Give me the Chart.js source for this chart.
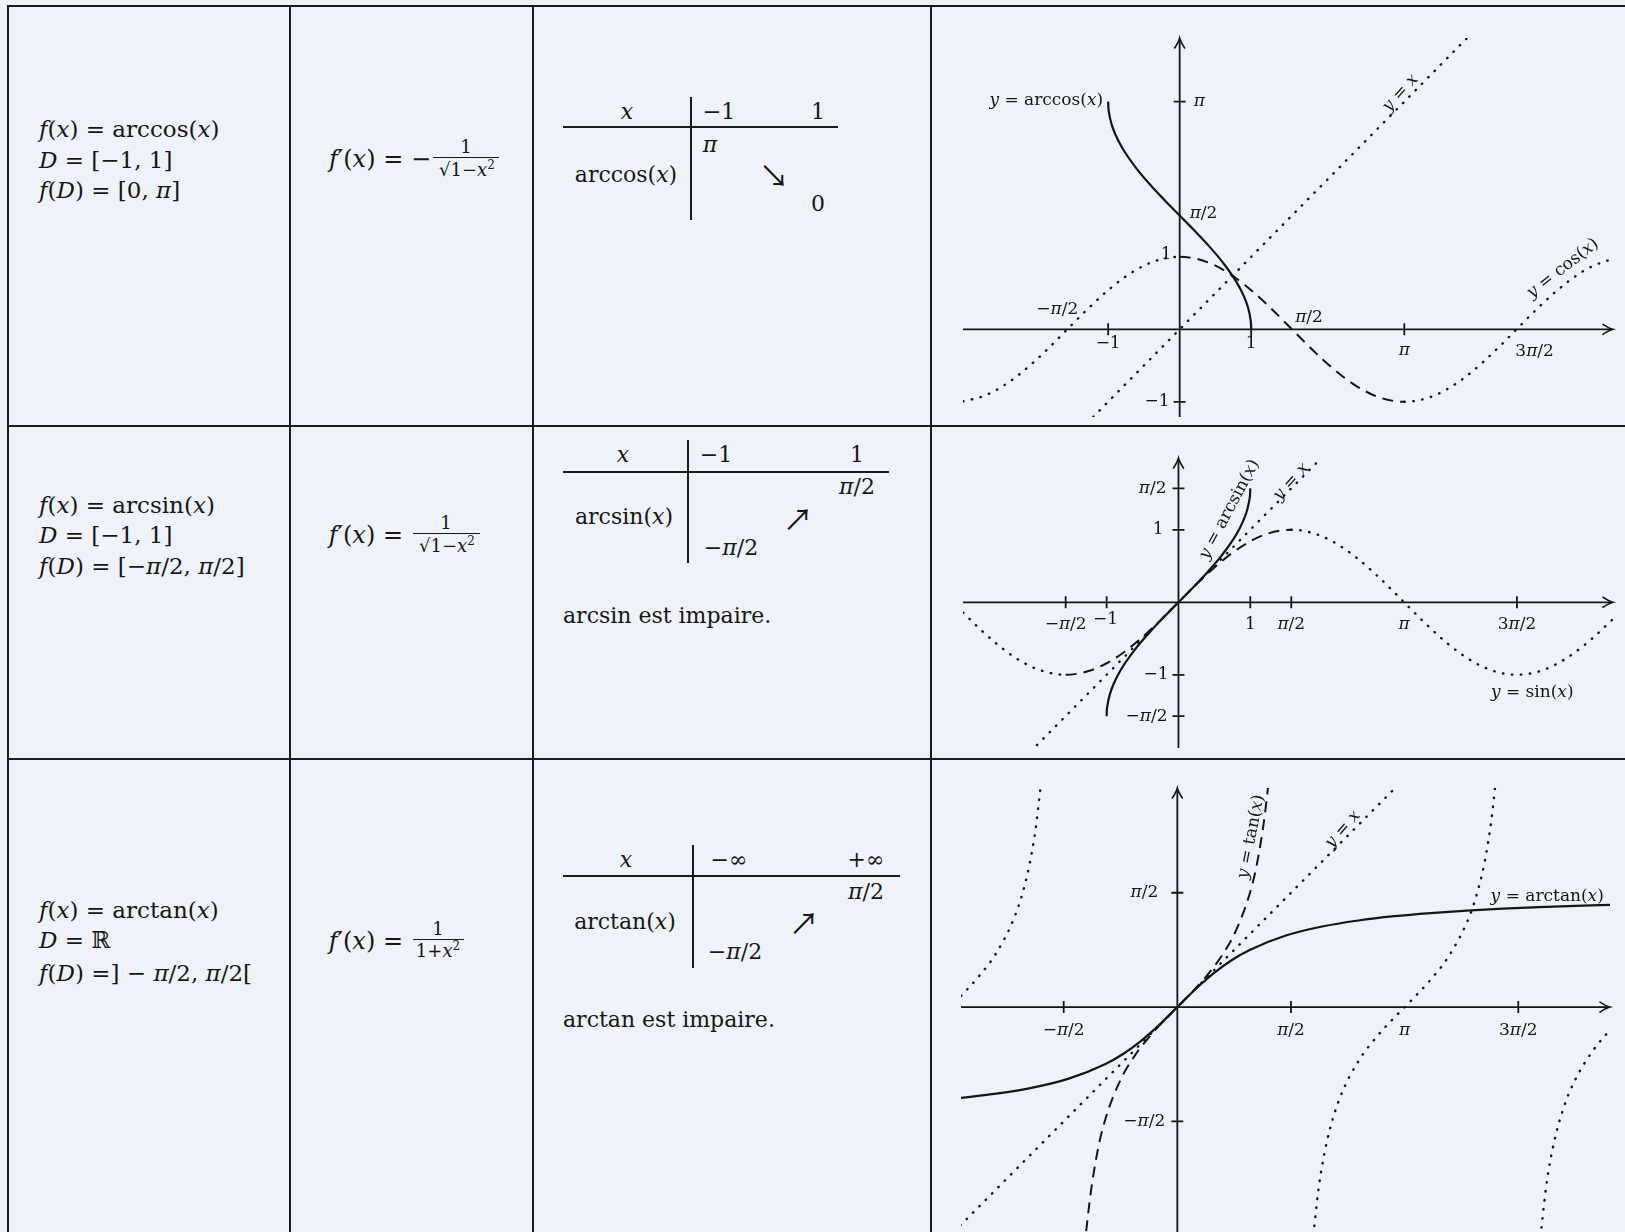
<!DOCTYPE html>
<html lang="fr">
<head>
<meta charset="utf-8">
<title>Fonctions trigonométriques réciproques</title>
<script src="https://cdn.jsdelivr.net/npm/chart.js@4.4.1/dist/chart.umd.min.js"></script>
<style>
  html, body { margin: 0; padding: 0; background: #eff3f9; }
  #page { position: relative; width: 1625px; height: 1232px; overflow: hidden;
          font-family: "DejaVu Serif", "Liberation Serif", serif; color: #161616; }
  .hl, .vl { position: absolute; background: #1b1b1b; }
  .t { position: absolute; white-space: nowrap; font-size: 22px; line-height: 1; }
  .big { font-size: 23px; }
  .fp { font-size: 24px; }
  .l { transform: translateY(-50%); }
  .r { transform: translate(-100%, -50%); }
  .c { transform: translate(-50%, -50%); }
  .s { font-size: 18px; }
  .ar { font-family: "Noto Sans CJK JP", "DejaVu Sans", sans-serif; font-size: 30px; }
  .ov { border-top: 1px solid #161616; padding-top: 1px; }
  sup { font-size: 12px; vertical-align: 7px; line-height: 0; }
  canvas { position: absolute; }
</style>
</head>
<body>
<div id="page">
  <!-- grille -->
  <div class="hl" style="left:7px;top:5px;width:1618px;height:2px"></div>
  <div class="hl" style="left:7px;top:425px;width:1618px;height:2px"></div>
  <div class="hl" style="left:7px;top:758px;width:1618px;height:2px"></div>
  <div class="vl" style="left:7px;top:5px;width:2px;height:1227px"></div>
  <div class="vl" style="left:289px;top:5px;width:2px;height:1227px"></div>
  <div class="vl" style="left:532px;top:5px;width:2px;height:1227px"></div>
  <div class="vl" style="left:930px;top:5px;width:2px;height:1227px"></div>

  <!-- ligne arccos -->
  <div class="t l big" style="left:39px;top:129px"><i>f</i>(<i>x</i>) = arccos(<i>x</i>)</div>
  <div class="t l big" style="left:39px;top:160px"><i>D</i> = [−1, 1]</div>
  <div class="t l big" style="left:39px;top:190px"><i>f</i>(<i>D</i>) = [0, <i>π</i>]</div>
  <div class="t r fp" style="left:431px;top:159px"><i>f</i>′(<i>x</i>) = −</div>
  <div class="t c s" style="left:466px;top:147px">1</div>
  <div class="hl" style="left:433px;top:157px;width:66px;height:1px"></div>
  <div class="t c s" style="left:467px;top:170px">√<span class="ov">1−<i>x</i><sup>2</sup></span></div>

  <div class="t c" style="left:627px;top:112px"><i>x</i></div>
  <div class="t c" style="left:719px;top:112px">−1</div>
  <div class="t c" style="left:818px;top:112px">1</div>
  <div class="hl" style="left:563px;top:126px;width:275px;height:1.5px"></div>
  <div class="vl" style="left:690px;top:97px;width:1.5px;height:123px"></div>
  <div class="t c" style="left:710px;top:145px"><i>π</i></div>
  <div class="t c" style="left:626px;top:175px">arccos(<i>x</i>)</div>
  <div class="t c ar" style="left:774px;top:174px">↘</div>
  <div class="t c" style="left:818px;top:204px">0</div>

  <!-- ligne arcsin -->
  <div class="t l big" style="left:39px;top:505px"><i>f</i>(<i>x</i>) = arcsin(<i>x</i>)</div>
  <div class="t l big" style="left:39px;top:535px"><i>D</i> = [−1, 1]</div>
  <div class="t l big" style="left:39px;top:566px"><i>f</i>(<i>D</i>) = [−<i>π</i>/2, <i>π</i>/2]</div>
  <div class="t r fp" style="left:403px;top:535px"><i>f</i>′(<i>x</i>) =</div>
  <div class="t c s" style="left:446px;top:523px">1</div>
  <div class="hl" style="left:413px;top:533px;width:67px;height:1px"></div>
  <div class="t c s" style="left:447px;top:546px">√<span class="ov">1−<i>x</i><sup>2</sup></span></div>

  <div class="t c" style="left:623px;top:455px"><i>x</i></div>
  <div class="t c" style="left:716px;top:455px">−1</div>
  <div class="t c" style="left:857px;top:455px">1</div>
  <div class="hl" style="left:563px;top:471px;width:326px;height:1.5px"></div>
  <div class="vl" style="left:687px;top:440px;width:1.5px;height:123px"></div>
  <div class="t c" style="left:857px;top:487px"><i>π</i>/2</div>
  <div class="t c" style="left:624px;top:517px">arcsin(<i>x</i>)</div>
  <div class="t c ar" style="left:798px;top:517px">↗</div>
  <div class="t c" style="left:731px;top:548px">−<i>π</i>/2</div>
  <div class="t l" style="left:563px;top:616px">arcsin est impaire.</div>

  <!-- ligne arctan -->
  <div class="t l big" style="left:39px;top:910px"><i>f</i>(<i>x</i>) = arctan(<i>x</i>)</div>
  <div class="t l big" style="left:39px;top:940px"><i>D</i> = ℝ</div>
  <div class="t l big" style="left:39px;top:973px"><i>f</i>(<i>D</i>) =] − <i>π</i>/2, <i>π</i>/2[</div>
  <div class="t r fp" style="left:403px;top:941px"><i>f</i>′(<i>x</i>) =</div>
  <div class="t c s" style="left:438px;top:929px">1</div>
  <div class="hl" style="left:413px;top:939px;width:51px;height:1px"></div>
  <div class="t c s" style="left:438px;top:951px">1+<i>x</i><sup>2</sup></div>

  <div class="t c" style="left:626px;top:860px"><i>x</i></div>
  <div class="t c" style="left:729px;top:860px">−∞</div>
  <div class="t c" style="left:866px;top:860px">+∞</div>
  <div class="hl" style="left:563px;top:875px;width:337px;height:1.5px"></div>
  <div class="vl" style="left:692px;top:845px;width:1.5px;height:123px"></div>
  <div class="t c" style="left:866px;top:892px"><i>π</i>/2</div>
  <div class="t c" style="left:625px;top:922px">arctan(<i>x</i>)</div>
  <div class="t c ar" style="left:804px;top:921px">↗</div>
  <div class="t c" style="left:735px;top:952px">−<i>π</i>/2</div>
  <div class="t l" style="left:563px;top:1020px">arctan est impaire.</div>

  <canvas id="c1" width="693" height="419" style="left:932px;top:6px"></canvas>
  <canvas id="c2" width="693" height="331" style="left:932px;top:427px"></canvas>
  <canvas id="c3" width="693" height="472" style="left:932px;top:760px"></canvas>
</div>

<script>
const PI = Math.PI;

// ---- graphe 1 : arccos / cos ----
const p1XRange = [-3.03, 6.06];
const p1YRange = [-1.21, 4.02];
const acosX = [-1, -0.998, -0.99, -0.95, -0.9, -0.8, -0.6, -0.4, -0.2, 0, 0.2, 0.4, 0.6, 0.8, 0.9, 0.95, 0.99, 0.998, 1];
const acosY = [3.142, 3.078, 3.000, 2.824, 2.691, 2.498, 2.214, 1.982, 1.772, 1.571, 1.369, 1.159, 0.927, 0.644, 0.451, 0.318, 0.142, 0.063, 0];
const cosX = [-3.03, -2.75, -2.5, -2.25, -2, -1.75, -1.5, -1.25, -1, -0.75, -0.5, -0.25, 0, 0.25, 0.5, 0.75, 1, 1.25, 1.5, 1.75, 2, 2.25, 2.5, 2.75, 3, 3.1416, 3.25, 3.5, 3.75, 4, 4.25, 4.5, 4.75, 5, 5.25, 5.5, 5.75, 6.06];
const cosY = [-0.994, -0.924, -0.801, -0.628, -0.416, -0.178, 0.071, 0.315, 0.540, 0.732, 0.878, 0.969, 1, 0.969, 0.878, 0.732, 0.540, 0.315, 0.071, -0.178, -0.416, -0.628, -0.801, -0.924, -0.990, -1, -0.994, -0.937, -0.821, -0.654, -0.446, -0.211, 0.038, 0.284, 0.512, 0.709, 0.861, 0.975];
const id1X = [-1.21, 4.06];
const id1Y = [-1.21, 4.06];
const p1XTicks = [-1, 1, PI];
const p1YTicks = [PI, -1];
const p1XLabelVals = [-PI / 2, -1, 1, PI / 2, PI, 3 * PI / 2];
const p1XLabels = ['−π/2', '−1', '1', 'π/2', 'π', '3π/2'];
const p1YLabelVals = [PI, PI / 2, 1, -1];
const p1YLabels = ['π', 'π/2', '1', '−1'];
const p1Curves = ['y = arccos(x)', 'y = x', 'y = cos(x)'];

// ---- graphe 2 : arcsin / sin ----
const p2XRange = [-3.0, 6.05];
const p2YRange = [-2.01, 1.99];
const asinX = [-1, -0.998, -0.99, -0.95, -0.9, -0.8, -0.6, -0.4, -0.2, 0, 0.2, 0.4, 0.6, 0.8, 0.9, 0.95, 0.99, 0.998, 1];
const asinY = [-1.571, -1.508, -1.429, -1.253, -1.120, -0.927, -0.644, -0.412, -0.201, 0, 0.201, 0.412, 0.644, 0.927, 1.120, 1.253, 1.429, 1.508, 1.571];
const sinX = [-3, -2.75, -2.5, -2.25, -2, -1.75, -1.5708, -1.25, -1, -0.75, -0.5, -0.25, 0, 0.25, 0.5, 0.75, 1, 1.25, 1.5708, 1.75, 2, 2.25, 2.5, 2.75, 3, 3.25, 3.5, 3.75, 4, 4.25, 4.5, 4.7124, 5, 5.25, 5.5, 5.75, 6.05];
const sinY = [-0.141, -0.382, -0.598, -0.778, -0.909, -0.984, -1, -0.949, -0.841, -0.682, -0.479, -0.247, 0, 0.247, 0.479, 0.682, 0.841, 0.949, 1, 0.984, 0.909, 0.778, 0.598, 0.382, 0.141, -0.108, -0.351, -0.572, -0.757, -0.895, -0.978, -1, -0.959, -0.859, -0.706, -0.508, -0.231];
const id2X = [-1.97, 1.95];
const id2Y = [-1.97, 1.95];
const p2XTicks = [-PI / 2, -1, 1, PI / 2, 3 * PI / 2];
const p2YTicks = [PI / 2, 1, -1, -PI / 2];
const p2XLabelVals = [-PI / 2, -1, 1, PI / 2, PI, 3 * PI / 2];
const p2XLabels = ['−π/2', '−1', '1', 'π/2', 'π', '3π/2'];
const p2YLabelVals = [PI / 2, 1, -1, -PI / 2];
const p2YLabels = ['π/2', '1', '−1', '−π/2'];
const p2Curves = ['y = arcsin(x)', 'y = x', 'y = sin(x)'];

// ---- graphe 3 : arctan / tan ----
const p3XRange = [-2.99, 5.98];
const p3YRange = [-3.09, 3.01];
const atanX = [-3, -2.5, -2, -1.5, -1, -0.75, -0.5, -0.25, 0, 0.25, 0.5, 0.75, 1, 1.5, 2, 2.5, 3, 3.5, 4, 4.5, 5, 5.5, 6];
const atanY = [-1.249, -1.190, -1.107, -0.983, -0.785, -0.644, -0.464, -0.245, 0, 0.245, 0.464, 0.644, 0.785, 0.983, 1.107, 1.190, 1.249, 1.292, 1.326, 1.352, 1.373, 1.391, 1.406];
const tanMidX = [-1.26, -1.2, -1.1, -1, -0.8, -0.6, -0.4, -0.2, 0, 0.2, 0.4, 0.6, 0.8, 1, 1.1, 1.2, 1.26];
const tanMidY = [-3.078, -2.572, -1.965, -1.557, -1.030, -0.684, -0.423, -0.203, 0, 0.203, 0.423, 0.684, 1.030, 1.557, 1.965, 2.572, 3.078];
const tanLeftX = [-2.99, -2.75, -2.5, -2.25, -2.1, -2, -1.95, -1.89];
const tanLeftY = [0.153, 0.413, 0.747, 1.239, 1.710, 2.185, 2.510, 3.027];
const tanCenterX = [1.88, 1.95, 2, 2.1, 2.25, 2.5, 2.75, 3, 3.1416, 3.25, 3.5, 3.75, 4, 4.1, 4.25, 4.35, 4.4];
const tanCenterY = [-3.130, -2.510, -2.185, -1.710, -1.239, -0.747, -0.413, -0.143, 0, 0.109, 0.375, 0.697, 1.158, 1.423, 2.006, 2.643, 3.099];
const tanRightX = [5.02, 5.1, 5.2, 5.35, 5.5, 5.75, 5.98];
const tanRightY = [-3.151, -2.449, -1.885, -1.350, -0.996, -0.590, -0.313];
const id3X = [-3, 3];
const id3Y = [-3, 3];
const p3XTicks = [-PI / 2, PI / 2, 3 * PI / 2];
const p3YTicks = [PI / 2, -PI / 2];
const p3XLabelVals = [-PI / 2, PI / 2, PI, 3 * PI / 2];
const p3XLabels = ['−π/2', 'π/2', 'π', '3π/2'];
const p3YLabelVals = [PI / 2, -PI / 2];
const p3YLabels = ['π/2', '−π/2'];
const p3Curves = ['y = tan(x)', 'y = x', 'y = arctan(x)'];

const INK = '#151515';
const DOT = [0.5, 8.5];
const DASH = [11, 7];
const FONT = '"DejaVu Serif", "Liberation Serif", serif';

const pts = (xs, ys) => xs.map((x, i) => ({ x, y: ys[i] }));

function solid(data) {
  return { data, borderColor: INK, borderWidth: 2.2, showLine: true, pointRadius: 0,
           cubicInterpolationMode: 'monotone', fill: false };
}
function dotted(data) {
  return { ...solid(data), borderWidth: 2.4, borderDash: DOT, borderCapStyle: 'round' };
}
function dashed(data) {
  return { ...solid(data), borderWidth: 2, borderDash: DASH };
}
// pointillés hors de [lo, hi], tirets dedans
function mixed(data, lo, hi) {
  const inside = c => c.p0.parsed.x >= lo && c.p1.parsed.x <= hi;
  return { ...solid(data), segment: {
    borderDash: c => inside(c) ? DASH : DOT,
    borderCapStyle: c => inside(c) ? 'butt' : 'round',
    borderWidth: c => inside(c) ? 2 : 2.4,
  } };
}

// texte « mathématique » : x, y, π en italique
function mathText(ctx, str, x, y, align, rotDeg) {
  const runs = [];
  for (const ch of str) {
    const it = /[xyπ]/.test(ch);
    const last = runs[runs.length - 1];
    if (last && last.it === it) last.s += ch; else runs.push({ s: ch, it });
  }
  const fontOf = it => (it ? 'italic ' : '') + '17px ' + FONT;
  let w = 0;
  runs.forEach(r => { ctx.font = fontOf(r.it); r.w = ctx.measureText(r.s).width; w += r.w; });
  ctx.save();
  ctx.translate(x, y);
  if (rotDeg) ctx.rotate(rotDeg * PI / 180);
  ctx.fillStyle = INK;
  ctx.textBaseline = 'middle';
  ctx.textAlign = 'left';
  let cx = align === 'left' ? 0 : align === 'right' ? -w : -w / 2;
  runs.forEach(r => { ctx.font = fontOf(r.it); ctx.fillText(r.s, cx, 0); cx += r.w; });
  ctx.restore();
}

function arrowHead(ctx, x, y, ang) {
  ctx.save();
  ctx.translate(x, y);
  ctx.rotate(ang);
  ctx.lineWidth = 1.6;
  ctx.lineCap = 'round';
  ctx.beginPath();
  ctx.moveTo(-10, -5);
  ctx.quadraticCurveTo(-4, -1, 0, 0);
  ctx.quadraticCurveTo(-4, 1, -10, 5);
  ctx.stroke();
  ctx.restore();
}

// axes centrés, graduations et étiquettes
function frame(spec) {
  return {
    id: 'frame',
    beforeDatasetsDraw(chart) {
      const { ctx, chartArea: a, scales: { x, y } } = chart;
      const x0 = x.getPixelForValue(0), y0 = y.getPixelForValue(0);
      ctx.save();
      ctx.strokeStyle = INK;
      ctx.lineWidth = 1.8;
      ctx.beginPath();
      ctx.moveTo(a.left, y0); ctx.lineTo(a.right - 1, y0);
      ctx.moveTo(x0, a.bottom); ctx.lineTo(x0, a.top + 1);
      spec.xTicks.forEach(v => { const p = x.getPixelForValue(v); ctx.moveTo(p, y0 - 6); ctx.lineTo(p, y0 + 6); });
      spec.yTicks.forEach(v => { const p = y.getPixelForValue(v); ctx.moveTo(x0 - 6, p); ctx.lineTo(x0 + 6, p); });
      ctx.stroke();
      arrowHead(ctx, a.right, y0, 0);
      arrowHead(ctx, x0, a.top, -PI / 2);
      ctx.restore();
    },
    afterDatasetsDraw(chart) {
      const { ctx, scales: { x, y } } = chart;
      const x0 = x.getPixelForValue(0), y0 = y.getPixelForValue(0);
      spec.xLabelVals.forEach((v, i) => {
        const [dx, dy] = spec.xOff[i];
        mathText(ctx, spec.xLabels[i], x.getPixelForValue(v) + dx, y0 + dy, 'center', 0);
      });
      spec.yLabelVals.forEach((v, i) => {
        const [dx, dy, al] = spec.yOff[i];
        mathText(ctx, spec.yLabels[i], x0 + dx, y.getPixelForValue(v) + dy, al, 0);
      });
      spec.curves.forEach((t, i) => {
        const [vx, vy, al, rot] = spec.curveAt[i];
        mathText(ctx, t, x.getPixelForValue(vx), y.getPixelForValue(vy), al, rot);
      });
    },
  };
}

function plot(id, xr, yr, pad, datasets, spec) {
  return new Chart(document.getElementById(id), {
    type: 'scatter',
    data: { datasets },
    options: {
      responsive: false,
      animation: false,
      events: [],
      layout: { padding: pad },
      plugins: { legend: { display: false }, tooltip: { enabled: false } },
      scales: {
        x: { type: 'linear', min: xr[0], max: xr[1], display: false },
        y: { type: 'linear', min: yr[0], max: yr[1], display: false },
      },
    },
    plugins: [frame(spec)],
  });
}

plot('c1', p1XRange, p1YRange, { left: 31, right: 12, top: 32, bottom: 8 }, [
  solid(pts(acosX, acosY)),
  mixed(pts(cosX, cosY), 0, 3.15),
  dotted(pts(id1X, id1Y)),
], {
  xTicks: p1XTicks, yTicks: p1YTicks,
  xLabelVals: p1XLabelVals, xLabels: p1XLabels,
  xOff: [[-10, -20], [0, 14], [0, 14], [17, -12], [0, 21], [18, 22]],
  yLabelVals: p1YLabelVals, yLabels: p1YLabels,
  yOff: [[14, 0, 'left'], [10, -2, 'left'], [-8, -2, 'right'], [-10, 0, 'right']],
  curves: p1Curves,
  curveAt: [[-1.07, 3.16, 'right', 0], [3.09, 3.26, 'center', -48], [5.36, 0.84, 'center', -38]],
});

plot('c2', p2XRange, p2YRange, { left: 31, right: 12, top: 31, bottom: 10 }, [
  solid(pts(asinX, asinY)),
  mixed(pts(sinX, sinY), -1.58, 1.58),
  dotted(pts(id2X, id2Y)),
], {
  xTicks: p2XTicks, yTicks: p2YTicks,
  xLabelVals: p2XLabelVals, xLabels: p2XLabels,
  xOff: [[0, 22], [-1, 17], [0, 22], [0, 22], [0, 22], [0, 22]],
  yLabelVals: p2YLabelVals, yLabels: p2YLabels,
  yOff: [[-12, 0, 'right'], [-15, 0, 'right'], [-10, 0, 'right'], [-11, 0, 'right']],
  curves: p2Curves,
  curveAt: [[0.71, 1.28, 'center', -62], [1.57, 1.66, 'center', -48], [4.35, -1.25, 'left', 0]],
});

plot('c3', p3XRange, p3YRange, { left: 29, right: 15, top: 28, bottom: 0 }, [
  solid(pts(atanX, atanY)),
  dashed(pts(tanMidX, tanMidY)),
  dotted(pts(tanLeftX, tanLeftY)),
  dotted(pts(tanCenterX, tanCenterY)),
  dotted(pts(tanRightX, tanRightY)),
  dotted(pts(id3X, id3Y)),
], {
  xTicks: p3XTicks, yTicks: p3YTicks,
  xLabelVals: p3XLabelVals, xLabels: p3XLabels,
  xOff: [[0, 23], [0, 23], [0, 23], [0, 23]],
  yLabelVals: p3YLabelVals, yLabels: p3YLabels,
  yOff: [[-19, 0, 'right'], [-12, 0, 'right']],
  curves: p3Curves,
  curveAt: [[1.02, 2.34, 'center', -79], [2.29, 2.44, 'center', -49], [4.33, 1.52, 'left', 0]],
});
</script>
</body>
</html>
